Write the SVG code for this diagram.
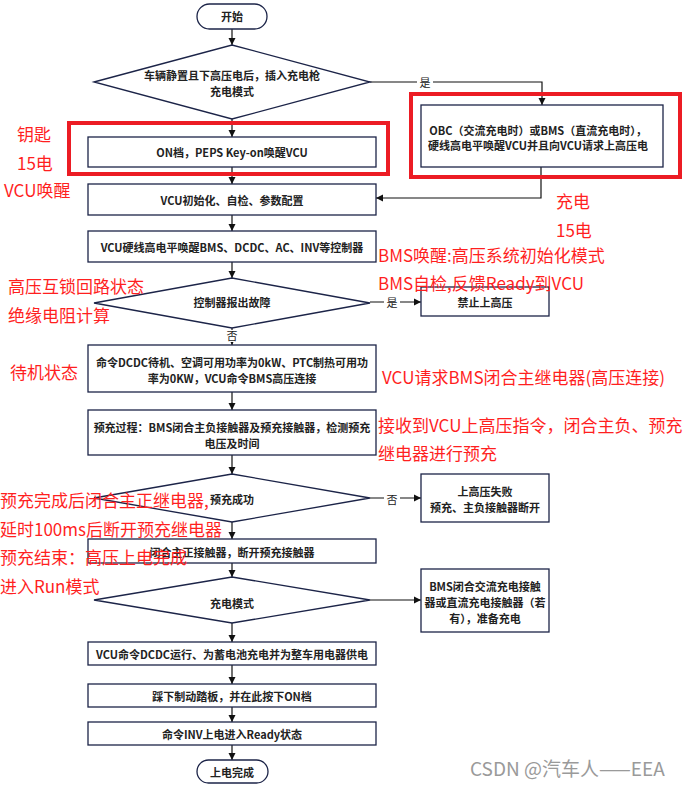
<svg xmlns="http://www.w3.org/2000/svg" width="691" height="787" viewBox="0 0 691 787">
<defs>
<marker id="arr" markerWidth="8" markerHeight="8" refX="7" refY="4" orient="auto" markerUnits="userSpaceOnUse">
<path d="M0,0.5 L7,4 L0,7.5 Z" fill="#111"/>
</marker>
<style>
.box{fill:#fff;stroke:#1c2448;stroke-width:1.3}
.t{font-family:"Noto Sans CJK SC","Microsoft YaHei",sans-serif;font-size:11px;font-weight:bold;fill:#222;text-anchor:middle;dominant-baseline:central}
.lbl{font-family:"Noto Sans CJK SC",sans-serif;font-size:11px;fill:#222;text-anchor:middle;dominant-baseline:central}
.ln{fill:none;stroke:#111;stroke-width:1.2}
.red{fill:none;stroke:#ec1c24;stroke-width:4}
.note{font-family:"Noto Sans CJK SC",sans-serif;font-size:17px;fill:#ff1f1f;dominant-baseline:central}
.wm{font-family:"Noto Sans CJK SC",sans-serif;font-size:19px;fill:#9a9a9a;dominant-baseline:central}
</style>
</defs>
<rect width="691" height="787" fill="#fff"/>

<g id="connectors">
<line class="ln" x1="232" y1="29" x2="232" y2="45" marker-end="url(#arr)"/>
<line class="ln" x1="232" y1="119" x2="232" y2="137" marker-end="url(#arr)"/>
<polyline class="ln" points="370,82 542,82 542,105" marker-end="url(#arr)"/>
<polyline class="ln" points="541,167 541,198 376,198" marker-end="url(#arr)"/>
<line class="ln" x1="232" y1="167" x2="232" y2="184" marker-end="url(#arr)"/>
<line class="ln" x1="232" y1="215" x2="232" y2="231" marker-end="url(#arr)"/>
<line class="ln" x1="232" y1="262" x2="232" y2="278" marker-end="url(#arr)"/>
<line class="ln" x1="370" y1="302" x2="421" y2="302" marker-end="url(#arr)"/>
<line class="ln" x1="232" y1="328" x2="232" y2="345" marker-end="url(#arr)"/>
<line class="ln" x1="232" y1="392" x2="232" y2="410" marker-end="url(#arr)"/>
<line class="ln" x1="232" y1="455" x2="232" y2="474" marker-end="url(#arr)"/>
<line class="ln" x1="370" y1="498" x2="421" y2="498" marker-end="url(#arr)"/>
<line class="ln" x1="232" y1="522" x2="232" y2="539" marker-end="url(#arr)"/>
<line class="ln" x1="232" y1="563" x2="232" y2="577" marker-end="url(#arr)"/>
<line class="ln" x1="370" y1="600" x2="421" y2="600" marker-end="url(#arr)"/>
<line class="ln" x1="232" y1="623" x2="232" y2="642" marker-end="url(#arr)"/>
<line class="ln" x1="232" y1="665" x2="232" y2="684" marker-end="url(#arr)"/>
<line class="ln" x1="232" y1="707" x2="232" y2="722" marker-end="url(#arr)"/>
<line class="ln" x1="232" y1="745" x2="232" y2="760" marker-end="url(#arr)"/>
<rect x="417" y="77" width="16" height="11" fill="#fff"/>
<text class="lbl" x="425" y="82">是</text>
<rect x="384" y="296" width="16" height="12" fill="#fff"/>
<text class="lbl" x="392" y="302">是</text>
<rect x="225" y="330" width="14" height="12" fill="#fff"/>
<text class="lbl" x="232" y="335">否</text>
<rect x="384" y="492" width="16" height="12" fill="#fff"/>
<text class="lbl" x="392" y="499">否</text>
</g>

<g id="start">
<rect class="box" x="197" y="4" width="70" height="25" rx="12.5"/>
<text class="t" x="232" y="16">开始</text>
</g>
<g id="d1">
<polygon class="box" points="94,82 232,45 370,82 232,119"/>
<text class="t" x="232" y="75">车辆静置且下高压电后，插入充电枪</text>
<text class="t" x="232" y="91">充电模式</text>
</g>
<g id="obc">
<rect class="box" x="421" y="105" width="242" height="62"/>
<text class="t" x="538" y="130">OBC（交流充电时）或BMS（直流充电时），</text>
<text class="t" x="538" y="145">硬线高电平唤醒VCU并且向VCU请求上高压电</text>
</g>
<g id="on">
<rect class="box" x="88" y="137" width="288" height="30"/>
<text class="t" x="232" y="152">ON档，PEPS Key-on唤醒VCU</text>
</g>
<g id="init">
<rect class="box" x="88" y="184" width="288" height="31"/>
<text class="t" x="232" y="200">VCU初始化、自检、参数配置</text>
</g>
<g id="wake">
<rect class="box" x="88" y="231" width="288" height="31"/>
<text class="t" x="232" y="247">VCU硬线高电平唤醒BMS、DCDC、AC、INV等控制器</text>
</g>
<g id="d2">
<polygon class="box" points="94,303 232,278 370,303 232,328"/>
<text class="t" x="232" y="302" font-weight="normal">控制器报出故障</text>
</g>
<g id="forbid">
<rect class="box" x="421" y="287" width="128" height="29"/>
<text class="t" x="485" y="302">禁止上高压</text>
</g>
<g id="standby">
<rect class="box" x="88" y="345" width="288" height="47"/>
<text class="t" x="232" y="362">命令DCDC待机、空调可用功率为0kW、PTC制热可用功</text>
<text class="t" x="232" y="378">率为0KW，VCU命令BMS高压连接</text>
</g>
<g id="precharge">
<rect class="box" x="88" y="410" width="288" height="45"/>
<text class="t" x="232" y="427">预充过程：BMS闭合主负接触器及预充接触器，检测预充</text>
<text class="t" x="232" y="443">电压及时间</text>
</g>
<g id="d3">
<polygon class="box" points="94,498 232,474 370,498 232,522"/>
<text class="t" x="232" y="499">预充成功</text>
</g>
<g id="fail">
<rect class="box" x="421" y="474" width="128" height="48"/>
<text class="t" x="485" y="491">上高压失败</text>
<text class="t" x="485" y="507">预充、主负接触器断开</text>
</g>
<g id="closepos">
<rect class="box" x="88" y="539" width="288" height="24"/>
<text class="t" x="232" y="552">闭合主正接触器，断开预充接触器</text>
</g>
<g id="d4">
<polygon class="box" points="94,600 232,577 370,600 232,623"/>
<text class="t" x="232" y="603">充电模式</text>
</g>
<g id="charge">
<rect class="box" x="421" y="569" width="128" height="63"/>
<text class="t" x="485" y="586">BMS闭合交流充电接触</text>
<text class="t" x="485" y="602">器或直流充电接触器（若</text>
<text class="t" x="485" y="618">有），准备充电</text>
</g>
<g id="dcdc">
<rect class="box" x="88" y="642" width="288" height="23"/>
<text class="t" x="232" y="654">VCU命令DCDC运行、为蓄电池充电并为整车用电器供电</text>
</g>
<g id="brake">
<rect class="box" x="88" y="684" width="288" height="23"/>
<text class="t" x="232" y="696">踩下制动踏板，并在此按下ON档</text>
</g>
<g id="inv">
<rect class="box" x="88" y="722" width="288" height="23"/>
<text class="t" x="232" y="734">命令INV上电进入Ready状态</text>
</g>
<g id="end">
<rect class="box" x="197" y="760" width="71" height="23" rx="11.5"/>
<text class="t" x="232" y="772">上电完成</text>
</g>

<g id="annotations">
<rect class="red" x="69" y="123" width="319" height="51"/>
<rect class="red" x="411" y="94" width="269" height="83"/>
<text class="note" x="17" y="133">钥匙</text>
<text class="note" x="17" y="162">15电</text>
<text class="note" x="4" y="189">VCU唤醒</text>
<text class="note" x="556" y="200">充电</text>
<text class="note" x="556" y="229">15电</text>
<text class="note" x="378" y="254">BMS唤醒:高压系统初始化模式</text>
<text class="note" x="378" y="282">BMS自检,反馈Ready到VCU</text>
<text class="note" x="8" y="285">高压互锁回路状态</text>
<text class="note" x="8" y="314">绝缘电阻计算</text>
<text class="note" x="10" y="371">待机状态</text>
<text class="note" x="382" y="376">VCU请求BMS闭合主继电器(高压连接)</text>
<text class="note" x="378" y="424">接收到VCU上高压指令，闭合主负、预充</text>
<text class="note" x="378" y="452">继电器进行预充</text>
<text class="note" x="0" y="499">预充完成后闭合主正继电器,</text>
<text class="note" x="0" y="528">延时100ms后断开预充继电器</text>
<text class="note" x="0" y="556">预充结束：高压上电完成</text>
<text class="note" x="0" y="585">进入Run模式</text>
<text class="wm" x="470" y="767">CSDN @汽车人——EEA</text>
</g>
</svg>
